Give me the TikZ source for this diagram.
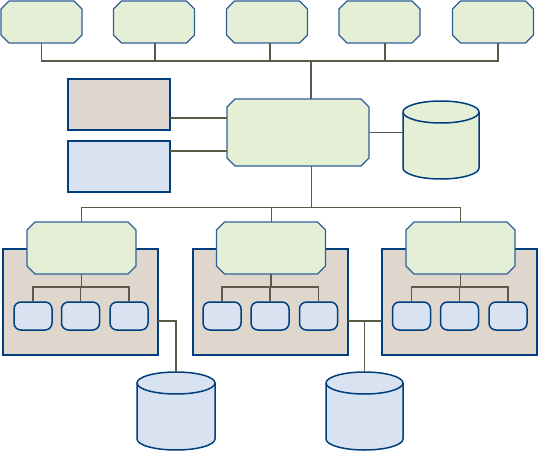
\documentclass[tikz,border=0pt]{standalone}
\usetikzlibrary{calc}
\definecolor{gfill}{HTML}{E4EFD5}
\definecolor{gline}{HTML}{2F5F98}
\definecolor{bline}{HTML}{003E7E}
\definecolor{brfill}{HTML}{DFD7CE}
\definecolor{blfill}{HTML}{D8E2F0}
\definecolor{conn}{HTML}{5A5A46}
\tikzset{
  oct/.style={rectangle, inner sep=0pt, outer sep=0pt},
  octline/.style={draw=gline, line width=1.3pt, fill=gfill, line join=miter},
  plainbox/.style={rectangle, draw=bline, line width=1.6pt, inner sep=0pt, outer sep=0pt},
  smallbox/.style={rectangle, rounded corners=7pt, draw=bline, line width=1.5pt, fill=blfill,
    minimum width=38pt, minimum height=28pt, inner sep=0pt, outer sep=0pt},
  dbnode/.style={rectangle, inner sep=0pt, outer sep=0pt, minimum width=#1, minimum height=78pt},
  cthick/.style={draw=conn, line width=1.8pt},
  cthin/.style={draw=conn, line width=1pt},
}
\newcommand\octo[1]{%
  \draw[octline] ($(#1.north west)+(8,0)$) -- ($(#1.north east)+(-8,0)$)
    -- ($(#1.north east)+(0,8)$) -- ($(#1.south east)+(0,-8)$)
    -- ($(#1.south east)+(-8,0)$) -- ($(#1.south west)+(8,0)$)
    -- ($(#1.south west)+(0,-8)$) -- ($(#1.north west)+(0,8)$) -- cycle;
}
\newcommand\drawcyl[3]{%
  \draw[line width=1.5pt, draw=bline, fill=#2]
    ($(#1.north west)+(0,11)$) -- ($(#1.south west)+(0,-11)$)
    arc[start angle=180, end angle=360, x radius=#3, y radius=11pt]
    -- ($(#1.north east)+(0,11)$)
    arc[start angle=0, end angle=180, x radius=#3, y radius=11pt] -- cycle;
  \draw[line width=1.5pt, draw=bline]
    ($(#1.north west)+(0,11)$) arc[start angle=180, end angle=360, x radius=#3, y radius=11pt];
}
\begin{document}
\begin{tikzpicture}[x=1pt, y=-1pt]
\useasboundingbox (0,0) rectangle (538,452);

% top row
\foreach \n/\x in {t1/41.5, t2/154, t3/267, t4/379.5, t5/493}{
  \node[oct, minimum width=81pt, minimum height=42pt] (\n) at (\x,22) {};
  \octo{\n}
}

% left boxes
\node[plainbox, fill=brfill, minimum width=102pt, minimum height=51pt] (brown) at (119,104.5) {};
\node[plainbox, fill=blfill, minimum width=102pt, minimum height=51pt] (blue) at (119,166.5) {};

% central
\node[oct, minimum width=142pt, minimum height=67pt] (c) at (298,132.5) {};
\octo{c}
\node[dbnode=76pt] (d0) at (441,140) {};
\drawcyl{d0}{gfill}{38pt}

% containers
\foreach \k/\x in {k1/80.5, k2/270.5, k3/459.5}
  \node[plainbox, fill=brfill, minimum width=155pt, minimum height=106pt] (\k) at (\x,302) {};
\foreach \g/\x in {g1/81.5, g2/271, g3/460.5}{
  \node[oct, minimum width=109pt, minimum height=52pt] (\g) at (\x,248) {};
  \octo{\g}
}
\foreach \s/\x in {a1/33, a2/80.5, a3/129, b1/222, b2/270, b3/318.5, e1/411.5, e2/459.5, e3/508}
  \node[smallbox] (\s) at (\x,316) {};

% bottom cylinders
\node[dbnode=78pt] (d1) at (176,411) {};
\node[dbnode=77pt] (d2) at (364.5,411) {};
\drawcyl{d1}{blfill}{39pt}
\drawcyl{d2}{blfill}{38.5pt}

% coordinates
\coordinate (btop) at (311,61);
\coordinate (bmid) at (311,207);
\coordinate (lb) at (198,118);
\coordinate (lu) at (198,151);
\coordinate (ib) at (0,287);
\coordinate (cl) at (0,321);
\coordinate (s1) at (t1.south);
\coordinate (s2) at ([xshift=1pt]t2.south);
\coordinate (s3) at ([xshift=3pt]t3.south);
\coordinate (s4) at ([xshift=5.5pt]t4.south);
\coordinate (s5) at ([xshift=5pt]t5.south);

% top bus
\draw[cthick] (s1) |- (s5 |- btop) -- (s5);
\draw[cthick] (s2) -- (s2 |- btop);
\draw[cthick] (s3) -- (s3 |- btop);
\draw[cthick] (s4) -- (s4 |- btop);
\draw[cthick] (btop) -- (btop |- c.north);

% left links
\draw[cthick] (brown.east |- lb) -- (c.west |- lb);
\draw[cthick] (blue.east |- lu) -- (c.west |- lu);
% right link
\draw[cthin] (c.east) -- (c.east -| d0.west);

% middle bus
\draw[cthin] (c.south -| bmid) -- (bmid);
\draw[cthin] (g1.north) |- (g3.north |- bmid) -- (g3.north);
\draw[cthin] (g2.north) -- (g2.north |- bmid);

% inner buses
\draw[cthick] (a1.north) |- (a3.north |- ib) -- (a3.north);
\draw[cthick] (g1.south) -- (g1.south |- ib);
\draw[cthick] (a2.north) -- (a2.north |- ib);
\draw[cthick] (b1.north) |- (b3.north |- ib) -- (b3.north);
\draw[cthick] (g2.south) -- (g2.south |- ib);
\draw[cthick] (b2.north) -- (b2.north |- ib);
\draw[cthick] (e1.north) |- (e3.north |- ib) -- (e3.north);
\draw[cthick] (g3.south) -- (g3.south |- ib);
\draw[cthick] (e2.north) -- (e2.north |- ib);

% container to storage
\draw[cthick] (k1.east |- cl) -| (d1.north);
\draw[cthick] (k2.east |- cl) -- (k3.west |- cl);
\draw[cthick] (d2.north |- cl) -- (d2.north);
\end{tikzpicture}
\end{document}
